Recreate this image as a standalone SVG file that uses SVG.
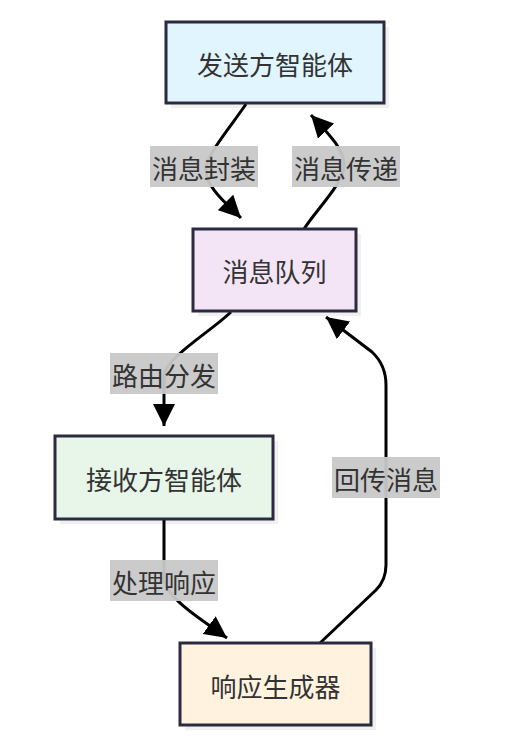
<svg xmlns="http://www.w3.org/2000/svg" width="528" height="738" viewBox="0 0 528 738">
<defs>
<marker id="ah" viewBox="0 0 10 10" refX="10" refY="5" markerWidth="22" markerHeight="22" markerUnits="userSpaceOnUse" orient="auto"><path d="M0,0 L10,5 L0,10 z" fill="#000"/></marker>
</defs>
<style>
.node rect.box{stroke:#2b2b40;stroke-width:3}
.shadow{fill:#000;opacity:0.06}
.t{font-family:"Noto Sans CJK SC","Liberation Sans",sans-serif;font-size:26px;fill:#333;text-anchor:middle;dominant-baseline:central}
.edge{fill:none;stroke:#000;stroke-width:3}
.lbl{fill:#c8c8c8;opacity:0.95}
</style>
<rect width="528" height="738" fill="#fff"/>
<g id="connectors">
<path class="edge" d="M246,104 C232,125 210,150 206,167 C203,185 228,205 241,218" marker-end="url(#ah)"/>
<path class="edge" d="M304,229 C316,210 342,185 344,167 C346,150 325,130 311,115" marker-end="url(#ah)"/>
<path class="edge" d="M231,312 C210,332 170,355 164,374 L164,426" marker-end="url(#ah)"/>
<path class="edge" d="M164,520 L164,580 C168,600 205,622 227,638" marker-end="url(#ah)"/>
<path class="edge" d="M320,643 L376,590 Q386,580 386,565 L386,385 Q386,365 372,352 L326,317" marker-end="url(#ah)"/>
<rect class="lbl" x="150" y="146" width="108" height="41"/>
<text class="t" x="204" y="167">消息封装</text>
<rect class="lbl" x="292" y="146" width="108" height="41"/>
<text class="t" x="346" y="167">消息传递</text>
<rect class="lbl" x="110" y="353" width="108" height="41"/>
<text class="t" x="164" y="374">路由分发</text>
<rect class="lbl" x="110" y="560" width="108" height="41"/>
<text class="t" x="164" y="581">处理响应</text>
<rect class="lbl" x="332" y="457" width="108" height="41"/>
<text class="t" x="386" y="478">回传消息</text>
</g>
<g id="sender" class="node">
<rect class="shadow" x="171" y="27" width="218" height="81"/>
<rect class="box" x="166" y="22" width="218" height="81" fill="#e1f5fe"/>
<text class="t" x="275" y="63">发送方智能体</text>
</g>
<g id="queue" class="node">
<rect class="shadow" x="198" y="234" width="163" height="82"/>
<rect class="box" x="193" y="229" width="163" height="82" fill="#f3e5f5"/>
<text class="t" x="274.5" y="270">消息队列</text>
</g>
<g id="receiver" class="node">
<rect class="shadow" x="60" y="441" width="218" height="83"/>
<rect class="box" x="55" y="436" width="218" height="83" fill="#e8f5e9"/>
<text class="t" x="164" y="478">接收方智能体</text>
</g>
<g id="generator" class="node">
<rect class="shadow" x="185" y="648" width="191" height="82"/>
<rect class="box" x="180" y="643" width="191" height="82" fill="#fff3e0"/>
<text class="t" x="275.5" y="685">响应生成器</text>
</g>
</svg>
